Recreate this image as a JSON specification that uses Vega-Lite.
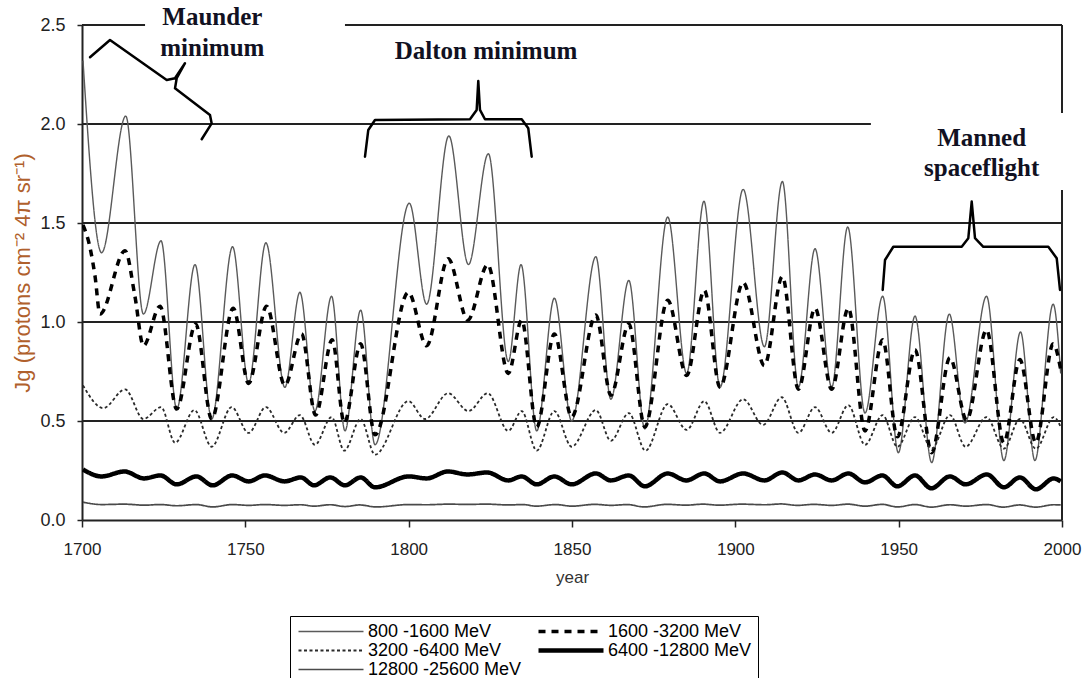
{
 "$schema": "https://vega.github.io/schema/vega-lite/v6.json",
 "width": 980,
 "height": 495,
 "autosize": {"type": "none"},
 "padding": {"left": 82, "top": 25, "right": 26, "bottom": 158},
 "background": "white",
 "config": {"view": {"stroke": null}, "font": "Liberation Sans"},
 "datasets": {
  "hgrid": [
   {"x": 1700, "x2": 2000, "y": 0.5},
   {"x": 1700, "x2": 2000, "y": 1.0},
   {"x": 1700, "x2": 2000, "y": 1.5},
   {"x": 1700, "x2": 1941.5, "y": 2.0},
   {"x": 1700, "x2": 1719.3, "y": 2.5},
   {"x": 1780.5, "x2": 2000, "y": 2.5}
  ],
  "vgrid": [
   {"x": 2000, "y": 0, "y2": 1.667},
   {"x": 2000, "y": 2.056, "y2": 2.5}
  ],
  "labels": [
   {"x": 1739.9, "y": 2.538, "t": "Maunder"},
   {"x": 1739.9, "y": 2.386, "t": "minimum"},
   {"x": 1823.7, "y": 2.369, "t": "Dalton minimum"},
   {"x": 1975.4, "y": 1.929, "t": "Manned"},
   {"x": 1975.4, "y": 1.778, "t": "spaceflight"}
  ],
  "brackets": [
   {"b": "M", "i": 0, "x": 1702.45, "y": 2.337},
   {"b": "M", "i": 1, "x": 1708.57, "y": 2.424},
   {"b": "M", "i": 2, "x": 1725.93, "y": 2.222},
   {"b": "M", "i": 3, "x": 1728.47, "y": 2.231},
   {"b": "M", "i": 4, "x": 1731.53, "y": 2.307},
   {"b": "M", "i": 5, "x": 1728.99, "y": 2.231},
   {"b": "M", "i": 6, "x": 1728.47, "y": 2.18},
   {"b": "M", "i": 7, "x": 1739.18, "y": 2.045},
   {"b": "M", "i": 8, "x": 1739.7, "y": 2.003},
   {"b": "M", "i": 9, "x": 1736.64, "y": 1.923},
   {"b": "D", "i": 0, "x": 1786.63, "y": 1.835},
   {"b": "D", "i": 1, "x": 1787.64, "y": 1.97},
   {"b": "D", "i": 2, "x": 1789.69, "y": 2.02},
   {"b": "D", "i": 3, "x": 1818.77, "y": 2.024},
   {"b": "D", "i": 4, "x": 1820.82, "y": 2.071},
   {"b": "D", "i": 5, "x": 1821.31, "y": 2.217},
   {"b": "D", "i": 6, "x": 1821.83, "y": 2.071},
   {"b": "D", "i": 7, "x": 1823.36, "y": 2.024},
   {"b": "D", "i": 8, "x": 1834.6, "y": 2.024},
   {"b": "D", "i": 9, "x": 1836.62, "y": 1.978},
   {"b": "D", "i": 10, "x": 1837.66, "y": 1.835},
   {"b": "S", "i": 0, "x": 1945.11, "y": 1.162},
   {"b": "S", "i": 1, "x": 1945.82, "y": 1.313},
   {"b": "S", "i": 2, "x": 1948.36, "y": 1.38},
   {"b": "S", "i": 3, "x": 1969.3, "y": 1.38},
   {"b": "S", "i": 4, "x": 1971.32, "y": 1.423},
   {"b": "S", "i": 5, "x": 1972.36, "y": 1.608},
   {"b": "S", "i": 6, "x": 1973.37, "y": 1.423},
   {"b": "S", "i": 7, "x": 1975.91, "y": 1.38},
   {"b": "S", "i": 8, "x": 1995.81, "y": 1.38},
   {"b": "S", "i": 9, "x": 1998.38, "y": 1.322},
   {"b": "S", "i": 10, "x": 1999.39, "y": 1.162}
  ],
  "series": [
   {"s": "800 -1600 MeV", "x": 1700.3, "y": 2.32},
   {"s": "800 -1600 MeV", "x": 1706, "y": 1.35},
   {"s": "800 -1600 MeV", "x": 1713.4, "y": 2.04},
   {"s": "800 -1600 MeV", "x": 1718.8, "y": 1.04},
   {"s": "800 -1600 MeV", "x": 1724.2, "y": 1.41},
   {"s": "800 -1600 MeV", "x": 1729, "y": 0.56},
   {"s": "800 -1600 MeV", "x": 1734.6, "y": 1.29},
   {"s": "800 -1600 MeV", "x": 1739.7, "y": 0.51},
   {"s": "800 -1600 MeV", "x": 1746.1, "y": 1.38},
   {"s": "800 -1600 MeV", "x": 1751, "y": 0.69},
   {"s": "800 -1600 MeV", "x": 1756.3, "y": 1.4},
   {"s": "800 -1600 MeV", "x": 1762.1, "y": 0.67},
   {"s": "800 -1600 MeV", "x": 1766.7, "y": 1.15},
   {"s": "800 -1600 MeV", "x": 1771.3, "y": 0.55},
   {"s": "800 -1600 MeV", "x": 1776.4, "y": 1.13},
   {"s": "800 -1600 MeV", "x": 1780.5, "y": 0.45},
   {"s": "800 -1600 MeV", "x": 1785.3, "y": 1.06},
   {"s": "800 -1600 MeV", "x": 1789.7, "y": 0.38},
   {"s": "800 -1600 MeV", "x": 1800.2, "y": 1.6},
   {"s": "800 -1600 MeV", "x": 1805.5, "y": 1.09},
   {"s": "800 -1600 MeV", "x": 1812.3, "y": 1.94},
   {"s": "800 -1600 MeV", "x": 1818.3, "y": 1.29},
   {"s": "800 -1600 MeV", "x": 1824.4, "y": 1.85},
   {"s": "800 -1600 MeV", "x": 1830.5, "y": 0.8},
   {"s": "800 -1600 MeV", "x": 1834.4, "y": 1.29},
   {"s": "800 -1600 MeV", "x": 1839.2, "y": 0.45},
   {"s": "800 -1600 MeV", "x": 1844.6, "y": 1.12},
   {"s": "800 -1600 MeV", "x": 1849.9, "y": 0.5},
   {"s": "800 -1600 MeV", "x": 1857.3, "y": 1.33},
   {"s": "800 -1600 MeV", "x": 1861.9, "y": 0.61},
   {"s": "800 -1600 MeV", "x": 1867.4, "y": 1.21},
   {"s": "800 -1600 MeV", "x": 1872.3, "y": 0.46},
   {"s": "800 -1600 MeV", "x": 1879.3, "y": 1.53},
   {"s": "800 -1600 MeV", "x": 1885.1, "y": 0.74},
   {"s": "800 -1600 MeV", "x": 1890.4, "y": 1.61},
   {"s": "800 -1600 MeV", "x": 1895.3, "y": 0.67},
   {"s": "800 -1600 MeV", "x": 1902.4, "y": 1.67},
   {"s": "800 -1600 MeV", "x": 1908.9, "y": 0.875},
   {"s": "800 -1600 MeV", "x": 1914.4, "y": 1.71},
   {"s": "800 -1600 MeV", "x": 1919.3, "y": 0.67},
   {"s": "800 -1600 MeV", "x": 1924.4, "y": 1.37},
   {"s": "800 -1600 MeV", "x": 1929.5, "y": 0.67},
   {"s": "800 -1600 MeV", "x": 1934.4, "y": 1.48},
   {"s": "800 -1600 MeV", "x": 1939.7, "y": 0.54},
   {"s": "800 -1600 MeV", "x": 1945.1, "y": 1.13},
   {"s": "800 -1600 MeV", "x": 1949.9, "y": 0.34},
   {"s": "800 -1600 MeV", "x": 1955, "y": 1.03},
   {"s": "800 -1600 MeV", "x": 1960.1, "y": 0.29},
   {"s": "800 -1600 MeV", "x": 1965.5, "y": 1.04},
   {"s": "800 -1600 MeV", "x": 1970.3, "y": 0.49},
   {"s": "800 -1600 MeV", "x": 1976.9, "y": 1.13},
   {"s": "800 -1600 MeV", "x": 1982.2, "y": 0.3},
   {"s": "800 -1600 MeV", "x": 1987.3, "y": 0.95},
   {"s": "800 -1600 MeV", "x": 1991.7, "y": 0.3},
   {"s": "800 -1600 MeV", "x": 1997.3, "y": 1.09},
   {"s": "800 -1600 MeV", "x": 1999.6, "y": 0.74},

   {"s": "1600 -3200 MeV", "x": 1700.3, "y": 1.49},
   {"s": "1600 -3200 MeV", "x": 1702.4, "y": 1.38},
   {"s": "1600 -3200 MeV", "x": 1704, "y": 1.23},
   {"s": "1600 -3200 MeV", "x": 1705.5, "y": 1.04},
   {"s": "1600 -3200 MeV", "x": 1713.2, "y": 1.36},
   {"s": "1600 -3200 MeV", "x": 1716.2, "y": 1.13},
   {"s": "1600 -3200 MeV", "x": 1718.8, "y": 0.88},
   {"s": "1600 -3200 MeV", "x": 1723.9, "y": 1.08},
   {"s": "1600 -3200 MeV", "x": 1729, "y": 0.56},
   {"s": "1600 -3200 MeV", "x": 1734.8, "y": 0.99},
   {"s": "1600 -3200 MeV", "x": 1739.7, "y": 0.51},
   {"s": "1600 -3200 MeV", "x": 1746.3, "y": 1.07},
   {"s": "1600 -3200 MeV", "x": 1751, "y": 0.69},
   {"s": "1600 -3200 MeV", "x": 1756.5, "y": 1.08},
   {"s": "1600 -3200 MeV", "x": 1762.1, "y": 0.68},
   {"s": "1600 -3200 MeV", "x": 1767.2, "y": 0.94},
   {"s": "1600 -3200 MeV", "x": 1771.5, "y": 0.53},
   {"s": "1600 -3200 MeV", "x": 1776.6, "y": 0.91},
   {"s": "1600 -3200 MeV", "x": 1780.3, "y": 0.49},
   {"s": "1600 -3200 MeV", "x": 1785.3, "y": 0.89},
   {"s": "1600 -3200 MeV", "x": 1789.7, "y": 0.43},
   {"s": "1600 -3200 MeV", "x": 1799.9, "y": 1.15},
   {"s": "1600 -3200 MeV", "x": 1805.5, "y": 0.88},
   {"s": "1600 -3200 MeV", "x": 1812.1, "y": 1.32},
   {"s": "1600 -3200 MeV", "x": 1818.1, "y": 1.01},
   {"s": "1600 -3200 MeV", "x": 1824.2, "y": 1.29},
   {"s": "1600 -3200 MeV", "x": 1830.5, "y": 0.74},
   {"s": "1600 -3200 MeV", "x": 1834.6, "y": 1.01},
   {"s": "1600 -3200 MeV", "x": 1839.2, "y": 0.47},
   {"s": "1600 -3200 MeV", "x": 1844.6, "y": 0.94},
   {"s": "1600 -3200 MeV", "x": 1849.9, "y": 0.52},
   {"s": "1600 -3200 MeV", "x": 1857.3, "y": 1.035},
   {"s": "1600 -3200 MeV", "x": 1861.9, "y": 0.63},
   {"s": "1600 -3200 MeV", "x": 1867.4, "y": 0.99},
   {"s": "1600 -3200 MeV", "x": 1872.3, "y": 0.47},
   {"s": "1600 -3200 MeV", "x": 1879.3, "y": 1.11},
   {"s": "1600 -3200 MeV", "x": 1885.1, "y": 0.73},
   {"s": "1600 -3200 MeV", "x": 1890.5, "y": 1.16},
   {"s": "1600 -3200 MeV", "x": 1895.3, "y": 0.67},
   {"s": "1600 -3200 MeV", "x": 1902.4, "y": 1.2},
   {"s": "1600 -3200 MeV", "x": 1908.9, "y": 0.78},
   {"s": "1600 -3200 MeV", "x": 1914.4, "y": 1.23},
   {"s": "1600 -3200 MeV", "x": 1919.3, "y": 0.66},
   {"s": "1600 -3200 MeV", "x": 1924.4, "y": 1.07},
   {"s": "1600 -3200 MeV", "x": 1929.5, "y": 0.66},
   {"s": "1600 -3200 MeV", "x": 1934.6, "y": 1.07},
   {"s": "1600 -3200 MeV", "x": 1939.7, "y": 0.45},
   {"s": "1600 -3200 MeV", "x": 1945.1, "y": 0.91},
   {"s": "1600 -3200 MeV", "x": 1949.6, "y": 0.42},
   {"s": "1600 -3200 MeV", "x": 1955, "y": 0.86},
   {"s": "1600 -3200 MeV", "x": 1960.1, "y": 0.34},
   {"s": "1600 -3200 MeV", "x": 1965.7, "y": 0.82},
   {"s": "1600 -3200 MeV", "x": 1970.8, "y": 0.505},
   {"s": "1600 -3200 MeV", "x": 1976.9, "y": 0.96},
   {"s": "1600 -3200 MeV", "x": 1982.2, "y": 0.39},
   {"s": "1600 -3200 MeV", "x": 1987.1, "y": 0.81},
   {"s": "1600 -3200 MeV", "x": 1992, "y": 0.39},
   {"s": "1600 -3200 MeV", "x": 1997.3, "y": 0.89},
   {"s": "1600 -3200 MeV", "x": 1999.6, "y": 0.76},

   {"s": "3200 -6400 MeV", "x": 1700.3, "y": 0.68},
   {"s": "3200 -6400 MeV", "x": 1706.5, "y": 0.565},
   {"s": "3200 -6400 MeV", "x": 1713.2, "y": 0.66},
   {"s": "3200 -6400 MeV", "x": 1718.8, "y": 0.51},
   {"s": "3200 -6400 MeV", "x": 1724.2, "y": 0.57},
   {"s": "3200 -6400 MeV", "x": 1728.5, "y": 0.39},
   {"s": "3200 -6400 MeV", "x": 1734.4, "y": 0.555},
   {"s": "3200 -6400 MeV", "x": 1739.7, "y": 0.37},
   {"s": "3200 -6400 MeV", "x": 1745.8, "y": 0.57},
   {"s": "3200 -6400 MeV", "x": 1751, "y": 0.44},
   {"s": "3200 -6400 MeV", "x": 1756.3, "y": 0.57},
   {"s": "3200 -6400 MeV", "x": 1761.9, "y": 0.44},
   {"s": "3200 -6400 MeV", "x": 1766.7, "y": 0.53},
   {"s": "3200 -6400 MeV", "x": 1771.3, "y": 0.38},
   {"s": "3200 -6400 MeV", "x": 1776.4, "y": 0.52},
   {"s": "3200 -6400 MeV", "x": 1780.3, "y": 0.35},
   {"s": "3200 -6400 MeV", "x": 1785.3, "y": 0.51},
   {"s": "3200 -6400 MeV", "x": 1789.7, "y": 0.33},
   {"s": "3200 -6400 MeV", "x": 1799.9, "y": 0.6},
   {"s": "3200 -6400 MeV", "x": 1805, "y": 0.51},
   {"s": "3200 -6400 MeV", "x": 1812.1, "y": 0.64},
   {"s": "3200 -6400 MeV", "x": 1818.3, "y": 0.55},
   {"s": "3200 -6400 MeV", "x": 1824.2, "y": 0.64},
   {"s": "3200 -6400 MeV", "x": 1830.5, "y": 0.45},
   {"s": "3200 -6400 MeV", "x": 1834.6, "y": 0.55},
   {"s": "3200 -6400 MeV", "x": 1839.2, "y": 0.35},
   {"s": "3200 -6400 MeV", "x": 1844.6, "y": 0.55},
   {"s": "3200 -6400 MeV", "x": 1849.9, "y": 0.37},
   {"s": "3200 -6400 MeV", "x": 1857.3, "y": 0.555},
   {"s": "3200 -6400 MeV", "x": 1861.9, "y": 0.4},
   {"s": "3200 -6400 MeV", "x": 1867.4, "y": 0.54},
   {"s": "3200 -6400 MeV", "x": 1872.5, "y": 0.35},
   {"s": "3200 -6400 MeV", "x": 1879.3, "y": 0.585},
   {"s": "3200 -6400 MeV", "x": 1885.1, "y": 0.455},
   {"s": "3200 -6400 MeV", "x": 1890.5, "y": 0.6},
   {"s": "3200 -6400 MeV", "x": 1895.3, "y": 0.44},
   {"s": "3200 -6400 MeV", "x": 1902.4, "y": 0.61},
   {"s": "3200 -6400 MeV", "x": 1908.5, "y": 0.48},
   {"s": "3200 -6400 MeV", "x": 1914.2, "y": 0.62},
   {"s": "3200 -6400 MeV", "x": 1919.3, "y": 0.44},
   {"s": "3200 -6400 MeV", "x": 1924.4, "y": 0.57},
   {"s": "3200 -6400 MeV", "x": 1929.5, "y": 0.44},
   {"s": "3200 -6400 MeV", "x": 1934.6, "y": 0.58},
   {"s": "3200 -6400 MeV", "x": 1939.7, "y": 0.38},
   {"s": "3200 -6400 MeV", "x": 1945.1, "y": 0.53},
   {"s": "3200 -6400 MeV", "x": 1949.6, "y": 0.37},
   {"s": "3200 -6400 MeV", "x": 1955, "y": 0.52},
   {"s": "3200 -6400 MeV", "x": 1960.1, "y": 0.36},
   {"s": "3200 -6400 MeV", "x": 1965.7, "y": 0.53},
   {"s": "3200 -6400 MeV", "x": 1970.5, "y": 0.37},
   {"s": "3200 -6400 MeV", "x": 1976.9, "y": 0.52},
   {"s": "3200 -6400 MeV", "x": 1982.2, "y": 0.36},
   {"s": "3200 -6400 MeV", "x": 1987.1, "y": 0.51},
   {"s": "3200 -6400 MeV", "x": 1992, "y": 0.36},
   {"s": "3200 -6400 MeV", "x": 1997.5, "y": 0.52},
   {"s": "3200 -6400 MeV", "x": 1999.6, "y": 0.47},

   {"s": "6400 -12800 MeV", "x": 1700.3, "y": 0.255},
   {"s": "6400 -12800 MeV", "x": 1706, "y": 0.22},
   {"s": "6400 -12800 MeV", "x": 1713, "y": 0.245},
   {"s": "6400 -12800 MeV", "x": 1719, "y": 0.21},
   {"s": "6400 -12800 MeV", "x": 1724, "y": 0.225},
   {"s": "6400 -12800 MeV", "x": 1729, "y": 0.18},
   {"s": "6400 -12800 MeV", "x": 1735, "y": 0.22},
   {"s": "6400 -12800 MeV", "x": 1740, "y": 0.175},
   {"s": "6400 -12800 MeV", "x": 1746, "y": 0.225},
   {"s": "6400 -12800 MeV", "x": 1751, "y": 0.195},
   {"s": "6400 -12800 MeV", "x": 1756, "y": 0.225},
   {"s": "6400 -12800 MeV", "x": 1762, "y": 0.195},
   {"s": "6400 -12800 MeV", "x": 1767, "y": 0.215},
   {"s": "6400 -12800 MeV", "x": 1771, "y": 0.175},
   {"s": "6400 -12800 MeV", "x": 1776, "y": 0.215},
   {"s": "6400 -12800 MeV", "x": 1780.5, "y": 0.175},
   {"s": "6400 -12800 MeV", "x": 1785.3, "y": 0.215},
   {"s": "6400 -12800 MeV", "x": 1789.7, "y": 0.165},
   {"s": "6400 -12800 MeV", "x": 1800, "y": 0.22},
   {"s": "6400 -12800 MeV", "x": 1805.5, "y": 0.21},
   {"s": "6400 -12800 MeV", "x": 1812, "y": 0.245},
   {"s": "6400 -12800 MeV", "x": 1818, "y": 0.23},
   {"s": "6400 -12800 MeV", "x": 1824, "y": 0.24},
   {"s": "6400 -12800 MeV", "x": 1830.5, "y": 0.2},
   {"s": "6400 -12800 MeV", "x": 1834.6, "y": 0.22},
   {"s": "6400 -12800 MeV", "x": 1839.2, "y": 0.18},
   {"s": "6400 -12800 MeV", "x": 1844.6, "y": 0.22},
   {"s": "6400 -12800 MeV", "x": 1849.9, "y": 0.18},
   {"s": "6400 -12800 MeV", "x": 1857.3, "y": 0.235},
   {"s": "6400 -12800 MeV", "x": 1861.9, "y": 0.2},
   {"s": "6400 -12800 MeV", "x": 1867.4, "y": 0.225},
   {"s": "6400 -12800 MeV", "x": 1872.3, "y": 0.17},
   {"s": "6400 -12800 MeV", "x": 1879.3, "y": 0.235},
   {"s": "6400 -12800 MeV", "x": 1885, "y": 0.2},
   {"s": "6400 -12800 MeV", "x": 1890.5, "y": 0.235},
   {"s": "6400 -12800 MeV", "x": 1895.3, "y": 0.195},
   {"s": "6400 -12800 MeV", "x": 1902.4, "y": 0.235},
   {"s": "6400 -12800 MeV", "x": 1908.9, "y": 0.2},
   {"s": "6400 -12800 MeV", "x": 1914.4, "y": 0.24},
   {"s": "6400 -12800 MeV", "x": 1919.3, "y": 0.2},
   {"s": "6400 -12800 MeV", "x": 1924.4, "y": 0.23},
   {"s": "6400 -12800 MeV", "x": 1929.5, "y": 0.2},
   {"s": "6400 -12800 MeV", "x": 1934.6, "y": 0.235},
   {"s": "6400 -12800 MeV", "x": 1939.7, "y": 0.19},
   {"s": "6400 -12800 MeV", "x": 1945, "y": 0.225},
   {"s": "6400 -12800 MeV", "x": 1949.6, "y": 0.17},
   {"s": "6400 -12800 MeV", "x": 1955, "y": 0.225},
   {"s": "6400 -12800 MeV", "x": 1960, "y": 0.16},
   {"s": "6400 -12800 MeV", "x": 1965.7, "y": 0.22},
   {"s": "6400 -12800 MeV", "x": 1970.5, "y": 0.18},
   {"s": "6400 -12800 MeV", "x": 1977, "y": 0.23},
   {"s": "6400 -12800 MeV", "x": 1982.2, "y": 0.165},
   {"s": "6400 -12800 MeV", "x": 1987.1, "y": 0.215},
   {"s": "6400 -12800 MeV", "x": 1992, "y": 0.155},
   {"s": "6400 -12800 MeV", "x": 1997.5, "y": 0.21},
   {"s": "6400 -12800 MeV", "x": 1999.6, "y": 0.195},

   {"s": "12800 -25600 MeV", "x": 1700.3, "y": 0.09},
   {"s": "12800 -25600 MeV", "x": 1706, "y": 0.078},
   {"s": "12800 -25600 MeV", "x": 1713, "y": 0.08},
   {"s": "12800 -25600 MeV", "x": 1719, "y": 0.075},
   {"s": "12800 -25600 MeV", "x": 1724, "y": 0.078},
   {"s": "12800 -25600 MeV", "x": 1729, "y": 0.072},
   {"s": "12800 -25600 MeV", "x": 1735, "y": 0.078},
   {"s": "12800 -25600 MeV", "x": 1740, "y": 0.066},
   {"s": "12800 -25600 MeV", "x": 1746, "y": 0.078},
   {"s": "12800 -25600 MeV", "x": 1751, "y": 0.074},
   {"s": "12800 -25600 MeV", "x": 1756, "y": 0.078},
   {"s": "12800 -25600 MeV", "x": 1762, "y": 0.074},
   {"s": "12800 -25600 MeV", "x": 1767, "y": 0.077},
   {"s": "12800 -25600 MeV", "x": 1771, "y": 0.07},
   {"s": "12800 -25600 MeV", "x": 1776, "y": 0.077},
   {"s": "12800 -25600 MeV", "x": 1780.5, "y": 0.068},
   {"s": "12800 -25600 MeV", "x": 1785, "y": 0.076},
   {"s": "12800 -25600 MeV", "x": 1790, "y": 0.066},
   {"s": "12800 -25600 MeV", "x": 1800, "y": 0.078},
   {"s": "12800 -25600 MeV", "x": 1805.5, "y": 0.077},
   {"s": "12800 -25600 MeV", "x": 1812, "y": 0.08},
   {"s": "12800 -25600 MeV", "x": 1818, "y": 0.079},
   {"s": "12800 -25600 MeV", "x": 1824, "y": 0.08},
   {"s": "12800 -25600 MeV", "x": 1830.5, "y": 0.076},
   {"s": "12800 -25600 MeV", "x": 1835, "y": 0.078},
   {"s": "12800 -25600 MeV", "x": 1839, "y": 0.07},
   {"s": "12800 -25600 MeV", "x": 1845, "y": 0.078},
   {"s": "12800 -25600 MeV", "x": 1850, "y": 0.07},
   {"s": "12800 -25600 MeV", "x": 1857, "y": 0.079},
   {"s": "12800 -25600 MeV", "x": 1862, "y": 0.074},
   {"s": "12800 -25600 MeV", "x": 1867, "y": 0.078},
   {"s": "12800 -25600 MeV", "x": 1872, "y": 0.066},
   {"s": "12800 -25600 MeV", "x": 1879, "y": 0.079},
   {"s": "12800 -25600 MeV", "x": 1885, "y": 0.075},
   {"s": "12800 -25600 MeV", "x": 1890, "y": 0.08},
   {"s": "12800 -25600 MeV", "x": 1895, "y": 0.075},
   {"s": "12800 -25600 MeV", "x": 1902, "y": 0.08},
   {"s": "12800 -25600 MeV", "x": 1909, "y": 0.077},
   {"s": "12800 -25600 MeV", "x": 1914, "y": 0.081},
   {"s": "12800 -25600 MeV", "x": 1919, "y": 0.074},
   {"s": "12800 -25600 MeV", "x": 1924, "y": 0.079},
   {"s": "12800 -25600 MeV", "x": 1929.5, "y": 0.074},
   {"s": "12800 -25600 MeV", "x": 1934.5, "y": 0.08},
   {"s": "12800 -25600 MeV", "x": 1939.7, "y": 0.07},
   {"s": "12800 -25600 MeV", "x": 1945, "y": 0.079},
   {"s": "12800 -25600 MeV", "x": 1949.6, "y": 0.066},
   {"s": "12800 -25600 MeV", "x": 1955, "y": 0.078},
   {"s": "12800 -25600 MeV", "x": 1960, "y": 0.065},
   {"s": "12800 -25600 MeV", "x": 1965.7, "y": 0.077},
   {"s": "12800 -25600 MeV", "x": 1970.5, "y": 0.07},
   {"s": "12800 -25600 MeV", "x": 1977, "y": 0.078},
   {"s": "12800 -25600 MeV", "x": 1982, "y": 0.065},
   {"s": "12800 -25600 MeV", "x": 1987, "y": 0.076},
   {"s": "12800 -25600 MeV", "x": 1992, "y": 0.065},
   {"s": "12800 -25600 MeV", "x": 1997.5, "y": 0.077},
   {"s": "12800 -25600 MeV", "x": 1999.6, "y": 0.076}
  ]
 },
 "encoding": {
  "x": {"field": "x", "type": "quantitative", "scale": {"domain": [1700, 2000], "nice": false, "zero": false},
   "axis": {"values": [1700, 1750, 1800, 1850, 1900, 1950, 2000], "format": "d", "title": "year", "grid": false,
    "labelFlush": false, "labelOverlap": false,
    "domainColor": "#222222", "domainWidth": 2, "tickColor": "#222222", "tickWidth": 1.5, "tickSize": 7,
    "labelFontSize": 17, "labelColor": "#222222", "labelPadding": 14, "labelFont": "Liberation Sans",
    "titleFontSize": 17, "titleFontWeight": "normal", "titleColor": "#333333", "titlePadding": 12, "titleFont": "Liberation Sans"}},
  "y": {"field": "y", "type": "quantitative", "scale": {"domain": [0, 2.5], "nice": false},
   "axis": {"values": [0, 0.5, 1, 1.5, 2, 2.5], "format": ".1f", "title": "Jg (protons cm⁻² 4π sr⁻¹)", "grid": false,
    "labelFlush": false, "labelOverlap": false,
    "domainColor": "#222222", "domainWidth": 2, "tickColor": "#222222", "tickWidth": 1.5, "tickSize": 5,
    "labelFontSize": 18, "labelColor": "#222222", "labelPadding": 12, "labelFont": "Liberation Sans",
    "titleFontSize": 22, "titleFontWeight": "normal", "titleColor": "#b0602c", "titlePadding": 5, "titleFont": "Liberation Sans"}}
 },
 "layer": [
  {
   "data": {"name": "hgrid"},
   "mark": {"type": "rule", "color": "#222222", "strokeWidth": 2},
   "encoding": {
    "x2": {"field": "x2"}
   }
  },
  {
   "data": {"name": "vgrid"},
   "mark": {"type": "rule", "color": "#222222", "strokeWidth": 2},
   "encoding": {
    "y2": {"field": "y2"}
   }
  },
  {
   "data": {"name": "series"},
   "mark": {"type": "line", "interpolate": "monotone", "clip": true},
   "encoding": {
    "color": {"field": "s", "type": "nominal",
     "scale": {"domain": ["800 -1600 MeV", "1600 -3200 MeV", "3200 -6400 MeV", "6400 -12800 MeV", "12800 -25600 MeV"],
      "range": ["#5a5a5a", "#000000", "#2a2a2a", "#000000", "#4a4a4a"]},
     "legend": {"title": null, "orient": "none", "legendX": 208, "legendY": 591, "columns": 2, "direction": "horizontal",
      "symbolType": "stroke", "symbolSize": 4225, "clipHeight": 19, "rowPadding": 0, "columnPadding": 14,
      "labelFontSize": 18, "labelFont": "Liberation Sans", "labelColor": "#000000", "labelOffset": 2,
      "strokeColor": "#000000", "fillColor": "#ffffff", "padding": 6, "labelLimit": 300}},
    "strokeDash": {"field": "s", "type": "nominal",
     "scale": {"domain": ["800 -1600 MeV", "1600 -3200 MeV", "3200 -6400 MeV", "6400 -12800 MeV", "12800 -25600 MeV"],
      "range": [[1, 0], [7, 6], [3, 2.5], [1, 0], [1, 0]]}},
    "strokeWidth": {"field": "s", "type": "nominal",
     "scale": {"type": "ordinal", "domain": ["800 -1600 MeV", "1600 -3200 MeV", "3200 -6400 MeV", "6400 -12800 MeV", "12800 -25600 MeV"],
      "range": [1.4, 3.5, 1.8, 4.5, 1.7]}}
   }
  },
  {
   "data": {"name": "brackets"},
   "mark": {"type": "line", "color": "#000000", "strokeWidth": 2.5, "strokeJoin": "round", "strokeCap": "round"},
   "encoding": {
    "order": {"field": "i", "type": "quantitative"},
    "detail": {"field": "b", "type": "nominal"}
   }
  },
  {
   "data": {"name": "labels"},
   "mark": {"type": "text", "font": "Liberation Serif", "fontWeight": "bold", "fontSize": 25, "color": "#111122", "align": "center", "baseline": "middle"},
   "encoding": {
    "text": {"field": "t", "type": "nominal"}
   }
  }
 ]
}
